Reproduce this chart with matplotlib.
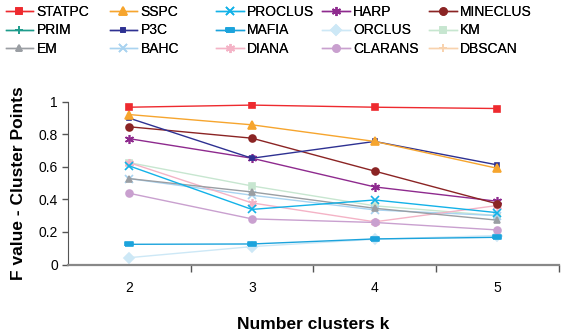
"""
F value of cluster points for several subspace clustering methods vs. number of clusters.
"""

import numpy as np
from matplotlib import pyplot as plt

plt.rcParams['font.family'] = ['Liberation Sans', 'DejaVu Sans']

k_values = ['2', '3', '4', '5']
nan = np.nan

# one list of F values per method
statpc = [0.965, 0.978, 0.965, 0.957]
sspc = [0.92, 0.857, 0.755, 0.59]
proclus = [0.605, 0.338, 0.396, 0.318]
harp = [0.772, 0.652, 0.476, 0.388]
mineclus = [0.845, 0.775, 0.573, 0.372]
prim = [nan, nan, nan, nan]
p3c = [0.898, 0.652, 0.755, 0.611]
mafia = [0.124, 0.126, 0.157, 0.167]
orclus = [0.042, 0.11, 0.155, 0.178]
km = [0.625, 0.482, 0.36, 0.3]
em = [0.527, 0.445, 0.345, 0.272]
bahc = [0.527, 0.425, 0.335, 0.30]
diana = [0.625, 0.378, 0.262, 0.362]
clarans = [0.437, 0.28, 0.258, 0.212]
dbscan = [nan, nan, nan, nan]

asterisk = (6, 2, 0)
dash = [(-1, -0.4), (1, -0.4), (1, 0.4), (-1, 0.4), (-1, -0.4)]

# name, values, colour, marker, marker size
series = [
    ('STATPC', statpc, '#ee2a2f', 's', 5),
    ('PRIM', prim, '#1e9c8c', '+', 6),
    ('EM', em, '#9a9ea3', '^', 5),
    ('SSPC', sspc, '#f6a52e', '^', 6),
    ('P3C', p3c, '#2e3192', 's', 2.5),
    ('BAHC', bahc, '#a9d3f0', 'x', 5.5),
    ('PROCLUS', proclus, '#13b2e8', 'x', 5.5),
    ('MAFIA', mafia, '#1ba3dc', dash, 5.5),
    ('DIANA', diana, '#f4b3c6', asterisk, 6.5),
    ('HARP', harp, '#8e2a8e', asterisk, 6.5),
    ('ORCLUS', orclus, '#cde8f6', 'D', 5),
    ('CLARANS', clarans, '#c9a0cf', 'o', 5),
    ('MINECLUS', mineclus, '#8b2424', 'o', 5),
    ('KM', km, '#c7e6d0', 's', 5),
    ('DBSCAN', dbscan, '#f8d2ad', '+', 6),
]

fig = plt.figure(figsize=(5.65, 3.35), dpi=100)
ax = fig.add_axes([0.120, 0.2104, 0.869, 0.4866])

x = np.arange(len(k_values))
handles = {}
# draw the pale ones first so the strong colours end on top
draw_order = ['ORCLUS', 'DBSCAN', 'KM', 'BAHC', 'DIANA', 'CLARANS', 'EM', 'PRIM',
              'MAFIA', 'PROCLUS', 'HARP', 'MINECLUS', 'P3C', 'SSPC', 'STATPC']
lookup = {s[0]: s for s in series}
for z, name in enumerate(draw_order):
    _, vals, color, marker, ms = lookup[name]
    line, = ax.plot(x, vals, color=color, marker=marker, markersize=ms,
                    markeredgewidth=1.2, linewidth=1.0, label=name, zorder=2 + z)
    handles[name] = line

ax.set_xlim(-0.5, len(k_values) - 0.5)
ax.set_ylim(0, 1)
ax.set_yticks([0, 0.2, 0.4, 0.6, 0.8, 1])
ax.set_yticklabels(['0', '0.2', '0.4', '0.6', '0.8', '1'])
ax.set_xticks(x)
ax.set_xticklabels(k_values)
ax.set_xticks(np.arange(len(k_values)) + 0.5, minor=True)
ax.tick_params(axis='x', which='major', length=0, pad=12, labelsize=10)
ax.tick_params(axis='x', which='minor', length=5, width=1, color='#555555', direction='out')
ax.tick_params(axis='y', length=4, width=1, color='#555555', labelsize=10, pad=3)
for side in ['top', 'right']:
    ax.spines[side].set_visible(False)
ax.spines['left'].set_color('#555555')
ax.spines['bottom'].set_color('#888888')
ax.spines['bottom'].set_linewidth(1.6)

ax.set_xlabel('Number clusters k', fontsize=12.5, fontweight='bold', labelpad=16)
ax.set_ylabel('F value - Cluster Points', fontsize=12.5, fontweight='bold', labelpad=9)

# legend in five columns, three rows each
columns = [['STATPC', 'PRIM', 'EM'], ['SSPC', 'P3C', 'BAHC'],
           ['PROCLUS', 'MAFIA', 'DIANA'], ['HARP', 'ORCLUS', 'CLARANS'],
           ['MINECLUS', 'KM', 'DBSCAN']]
col_x = [0.0, 0.184, 0.372, 0.560, 0.749]
for cx, names in zip(col_x, columns):
    leg = fig.legend([handles[n] for n in names], names, loc='upper left',
                     bbox_to_anchor=(cx, 1.002), frameon=False, fontsize=10,
                     handlelength=2.0, handletextpad=0.25, labelspacing=0.33,
                     borderaxespad=0, borderpad=0.4)
    fig.add_artist(leg)

plt.savefig('out.png', dpi=100)
